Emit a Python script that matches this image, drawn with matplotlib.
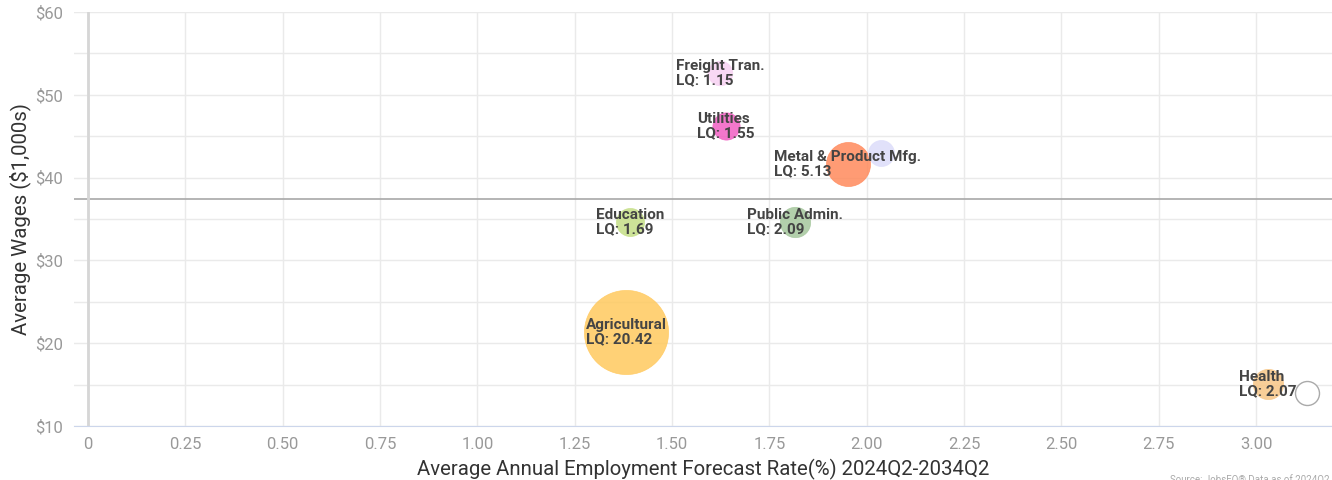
import numpy as np
import matplotlib
matplotlib.use("Agg")
import matplotlib.pyplot as plt

plt.rcParams['font.family'] = ['Roboto', 'DejaVu Sans']

# données
noms = ["Freight Tran.", "Utilities", "Metal & Product Mfg.", "", "Education",
        "Public Admin.", "Agricultural", "Health", ""]
croissance = [1.623, 1.639, 1.952, 2.037, 1.392, 1.816, 1.382, 3.031, 3.131]
salaires = [52.6, 46.2, 41.6, 43.0, 34.6, 34.6, 21.35, 15.07, 14.0]
lq = [1.15, 1.55, 5.13, 1.36, 1.69, 2.09, 20.42, 2.07, 1.06]
couleurs = ["#f7d2f3", "#f25fc3", "#ff8a5c", "#dcdcfa", "#c5df86",
            "#a5c79c", "#ffc95e", "#f7c686", "#ffffff"]
salaire_moyen = 37.42
x_ticks = [0, 0.25, 0.5, 0.75, 1.0, 1.25, 1.5, 1.75, 2.0, 2.25, 2.5, 2.75, 3.0]
x_labels = ["0", "0.25", "0.50", "0.75", "1.00", "1.25", "1.50", "1.75", "2.00",
            "2.25", "2.50", "2.75", "3.00"]
y_ticks = [10, 20, 30, 40, 50, 60]
y_labels = ["$10", "$20", "$30", "$40", "$50", "$60"]

fig = plt.figure(figsize=(13.32, 4.8), dpi=100)
ax = fig.add_axes([74/1332, 54/480, 1258/1332, 414/480])

# taille des bulles : rayon en pixels -> surface en points^2
rayon = np.sqrt(55 + 84*np.array(lq))
tailles = (2*rayon*0.72)**2

for i in range(len(noms)):
    if couleurs[i] == "#ffffff":
        ax.scatter(croissance[i], salaires[i], s=tailles[i], facecolor="white",
                   edgecolor="#aaaaaa", linewidth=1, zorder=3)
    else:
        ax.scatter(croissance[i], salaires[i], s=tailles[i], color=couleurs[i],
                   alpha=0.85, edgecolor=couleurs[i], linewidth=0.5, zorder=3)
    if noms[i]:
        ax.text(croissance[i], salaires[i], "{}\nLQ: {}".format(noms[i], "%.2f" % lq[i]),
                ha='center', va='center', multialignment='left', fontsize=11,
                fontweight='bold', color="#444444", linespacing=1.0, zorder=4)

ax.axhline(salaire_moyen, color="#a8a8a8", linewidth=1.2, zorder=2)
ax.axvline(0, color="#d6d6d6", linewidth=2, zorder=2)

ax.set_xlim(-0.036, 3.195)
ax.set_ylim(10, 60)
ax.set_xticks(x_ticks)
ax.set_xticklabels(x_labels)
ax.set_yticks(y_ticks)
ax.set_yticklabels(y_labels)
ax.set_yticks([15, 25, 35, 45, 55], minor=True)
ax.grid(True, which='both', color="#eaeaea", linewidth=1, zorder=0)
ax.set_axisbelow(True)
ax.tick_params(axis='both', which='both', length=0, colors="#999999", labelsize=12)
ax.tick_params(axis='x', pad=8)
ax.tick_params(axis='y', pad=8)
for s in ['top', 'right', 'left']:
    ax.spines[s].set_visible(False)
ax.spines['bottom'].set_color("#ccd6eb")

ax.set_xlabel("Average Annual Employment Forecast Rate(%) 2024Q2-2034Q2",
              fontsize=14.7, color="#333333", labelpad=5)
ax.set_ylabel("Average Wages ($1,000s)", fontsize=14.7, color="#333333", labelpad=3)

fig.text(1170/1332, 4/480, "Source: JobsEQ® Data as of 2024Q2", fontsize=7,
         color="#aaaaaa", ha='left', va='top')

fig.savefig("out.png", dpi=100)
